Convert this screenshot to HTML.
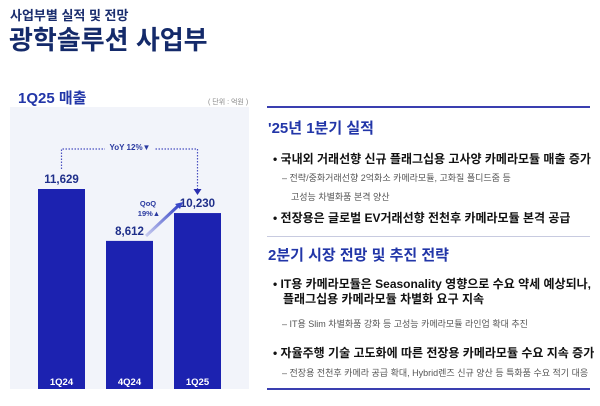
<!DOCTYPE html>
<html><head><meta charset="utf-8"><style>
body{margin:0;width:600px;height:406px;background:#fff;position:relative;overflow:hidden;font-family:"Liberation Sans","Noto Sans CJK KR",sans-serif}
.t{position:absolute;white-space:nowrap}
</style></head><body>
<div class="t" style="left:10px;top:5px;font-size:13px;font-weight:bold;color:#1a2d6e">사업부별 실적 및 전망</div>
<div class="t" style="left:9px;top:20px;font-size:26px;font-weight:bold;color:#142a6a">광학솔루션 사업부</div>
<div class="t" style="left:18px;top:87px;font-size:15px;font-weight:bold;color:#2236a8">1Q25 매출</div>
<div class="t" style="left:208px;top:97px;font-size:7px;color:#888">( 단위 : 억원 )</div>
<svg id="chart" style="position:absolute;left:0;top:0" width="260" height="406">
<defs><linearGradient id="g" x1="0" y1="1" x2="1" y2="0"><stop offset="0" stop-color="#c9cdf0"/><stop offset="1" stop-color="#3a48c8"/></linearGradient></defs>
<rect x="10" y="107" width="239" height="282" fill="#f2f4fa"/>
</svg>
<script>
const categories=["1Q24","4Q24","1Q25"];
const values=[11629,8612,10230];
const valueLabels=["11,629","8,612","10,230"];
const svg=document.getElementById('chart');const NS="http://www.w3.org/2000/svg";
const base=389,scale=200/11629;
const xPos=i=>38+i*68,bw=47;
const yPos=v=>base-v*scale;
function mk(t,a){const e=document.createElementNS(NS,t);for(const k in a)e.setAttribute(k,a[k]);svg.appendChild(e);return e;}
values.forEach((v,i)=>{
 const r=mk('rect',{x:xPos(i),y:yPos(v),width:bw,height:base-yPos(v),fill:'#1c22b0'});
 
 
 const l=mk('text',{x:xPos(i)+bw/2,y:yPos(v)-6,'text-anchor':'middle','font-size':'11.5','font-weight':'bold',fill:'#1f2f8a'});
 l.textContent=valueLabels[i];
 
 
 const c=mk('text',{x:xPos(i)+bw/2,y:385,'text-anchor':'middle','font-size':'9.5','font-weight':'bold',fill:'#fff'});
 c.textContent=categories[i];
 
 
});
const x0=xPos(0)+bw/2,x2=xPos(2)+bw/2,yt=149;
const yoy=mk('path',{d:`M${x0} ${yPos(values[0])-20} V${yt} H${x2} V${yPos(values[2])-24}`,fill:'none',stroke:'#4a4fc0','stroke-width':'1.2','stroke-dasharray':'1.5 1.5'});


const ah=mk('path',{d:`M${x2-4} ${yPos(values[2])-24} h8 l-4 6 z`,fill:'#2a2fb0'});


mk('rect',{x:105,y:141,width:50,height:12,fill:'#f2f4fa'});
const yl=mk('text',{x:130,y:150,'text-anchor':'middle','font-size':'8','font-weight':'bold',fill:'#2a3aa0'});
yl.textContent="YoY 12%▼";


const qa=mk('path',{d:`M146 236 L178 206`,stroke:'url(#g)','stroke-width':'3',fill:'none'});


const qh=mk('path',{d:'M183 202 l-8 2 l5 5 z',fill:'#3a48c8'});


const q1=mk('text',{x:148,y:206,'text-anchor':'middle','font-size':'7.5','font-weight':'bold',fill:'#2a3aa0'});q1.textContent="QoQ";


const q2=mk('text',{x:149,y:216,'text-anchor':'middle','font-size':'7.5','font-weight':'bold',fill:'#2a3aa0'});q2.textContent="19%▲";


</script>
<div style="position:absolute;left:267px;top:106px;width:323px;height:2px;background:#3a3fb0"></div>
<div style="position:absolute;left:267px;top:236px;width:323px;height:1px;background:#c8cbe0"></div>
<div style="position:absolute;left:267px;top:388px;width:323px;height:2px;background:#3a3fb0"></div>
<div class="t" style="left:268px;top:117px;font-size:15px;font-weight:bold;color:#2236a8">'25년 1분기 실적</div>
<div class="t" style="left:273px;top:150px;font-size:12px;font-weight:bold;color:#111">• 국내외 거래선향 신규 플래그십용 고사양 카메라모듈 매출 증가</div>
<div class="t" style="left:282px;top:171px;font-size:9px;color:#555">– 전략/중화거래선향 2억화소 카메라모듈, 고화질 폴디드줌 등</div>
<div class="t" style="left:291px;top:190px;font-size:9px;color:#555">고성능 차별화품 본격 양산</div>
<div class="t" style="left:273px;top:209px;font-size:12px;font-weight:bold;color:#111">• 전장용은 글로벌 EV거래선향 전천후 카메라모듈 본격 공급</div>
<div class="t" style="left:268px;top:244px;font-size:15px;font-weight:bold;color:#2236a8">2분기 시장 전망 및 추진 전략</div>
<div class="t" style="left:273px;top:277px;font-size:12px;font-weight:bold;color:#111;line-height:15px">• IT용 카메라모듈은 Seasonality 영향으로 수요 약세 예상되나,<br>&nbsp;&nbsp;&nbsp;플래그십용 카메라모듈 차별화 요구 지속</div>
<div class="t" style="left:282px;top:317px;font-size:9px;color:#555">– IT용 Slim 차별화품 강화 등 고성능 카메라모듈 라인업 확대 추진</div>
<div class="t" style="left:273px;top:344px;font-size:12px;font-weight:bold;color:#111">• 자율주행 기술 고도화에 따른 전장용 카메라모듈 수요 지속 증가</div>
<div class="t" style="left:282px;top:366px;font-size:9px;color:#555">– 전장용 전천후 카메라 공급 확대, Hybrid렌즈 신규 양산 등 특화품 수요 적기 대응</div>
</body></html>
